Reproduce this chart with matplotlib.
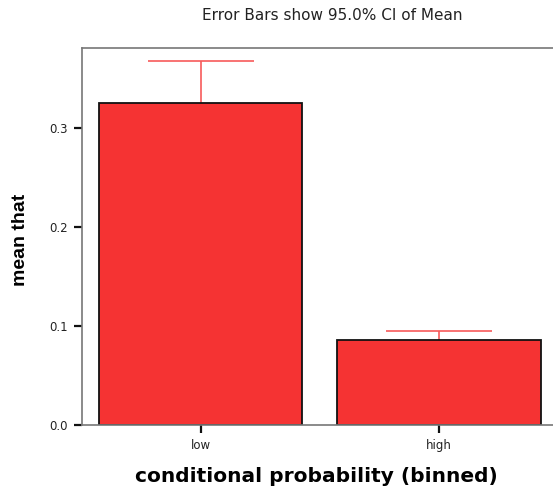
import matplotlib
matplotlib.use("Agg")
import matplotlib.pyplot as plt
import numpy as np

categories = ["low", "high"]
means = [0.325, 0.0855]
ci_upper = [0.3675, 0.0945]
ci_lower = [0.2825, 0.0765]
yticks = [0.0, 0.1, 0.2, 0.3]
ytick_labels = ["0.0", "0.1", "0.2", "0.3"]

fig = plt.figure(figsize=(5.53, 4.91), dpi=100)
ax = fig.add_axes([82/553, (491-425)/491, 1 - 82/553, (425-48)/491])

x = np.arange(len(categories))
err = [np.array(means) - np.array(ci_lower), np.array(ci_upper) - np.array(means)]
ax.errorbar(x, means, yerr=err, fmt="none", ecolor="#f75a5a", elinewidth=1.2,
            capsize=38, capthick=1.2, zorder=1)
ax.bar(x, means, width=0.853, color="#f53333", edgecolor="#111111", linewidth=1.3, zorder=2)

ax.set_xlim(-0.497, 1.478)
ax.set_ylim(0, 0.381)
ax.set_xticks(x)
ax.set_xticklabels(categories, fontsize=8.5, family="DejaVu Sans", color="#222222")
ax.set_yticks(yticks)
ax.set_yticklabels(ytick_labels, fontsize=8.5, family="DejaVu Sans", color="#222222")
ax.tick_params(axis="both", direction="out", length=6, width=1.6, color="#111111", pad=4)
for s in ["left", "top", "bottom"]:
    ax.spines[s].set_color("#777777")
    ax.spines[s].set_linewidth(1.2)
ax.spines["right"].set_visible(False)

fig.text(21/553, 1 - 240/491, "mean that", rotation=90, ha="center", va="center",
         fontsize=14, fontweight="bold",
         family=["Liberation Sans Narrow", "Liberation Sans"])
fig.text(316/553, 1 - 476/491, "conditional probability (binned)", ha="center", va="center",
         fontsize=14.5, fontweight="bold", family="DejaVu Sans")
fig.text(332/553, 1 - 15/491, "Error Bars show 95.0% CI of Mean", ha="center", va="center",
         fontsize=11, family="DejaVu Sans", color="#222222")

fig.savefig("out.png", dpi=100)
